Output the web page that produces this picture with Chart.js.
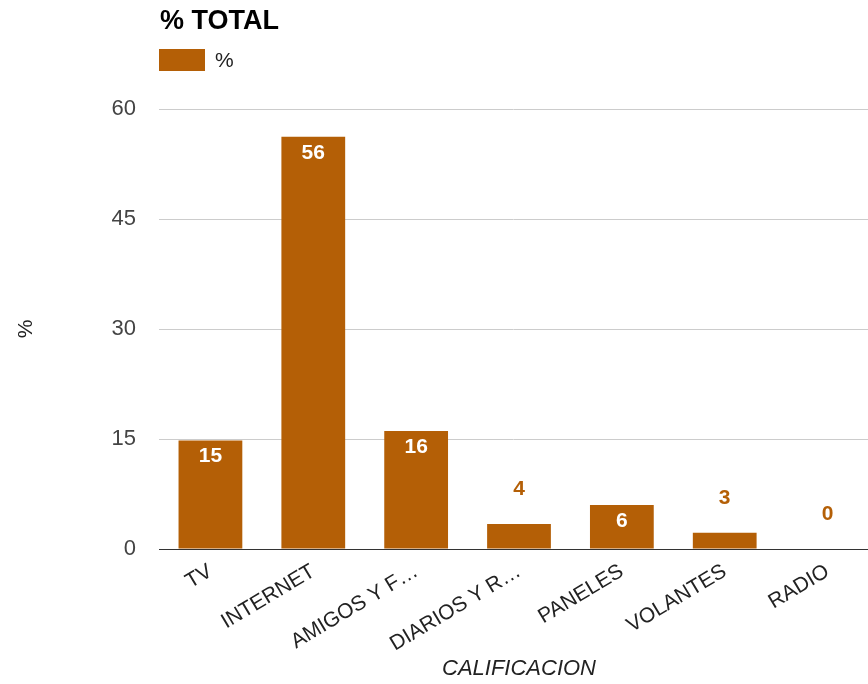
<!DOCTYPE html>
<html>
<head>
<meta charset="utf-8">
<script src="https://cdn.jsdelivr.net/npm/chart.js@4/dist/chart.umd.min.js"></script>
<style>
  body { margin: 0; background: #fff; }
</style>
</head>
<body>
<canvas id="chart" width="868" height="684"></canvas>
<script>
// datos del grafico
const categories = ["TV", "INTERNET", "AMIGOS Y F…", "DIARIOS Y R…", "PANELES", "VOLANTES", "RADIO"];
const values = [14.8, 56.2, 16.1, 3.4, 6.0, 2.2, 0];
const valueLabels = ["15", "56", "16", "4", "6", "3", "0"];
const yTicks = [0, 15, 30, 45, 60];
const chartTitle = "% TOTAL";
const seriesName = "%";
const xTitle = "CALIFICACION";
const yTitle = "%";

const barColor = "#b45f06";
const fontFamily = "Arial, 'Liberation Sans', sans-serif";

// titulo y leyenda alineados con el area del grafico
const headerPlugin = {
  id: "header",
  afterDraw(chart) {
    const ctx = chart.ctx;
    const left = chart.chartArea.left + 1;
    ctx.save();
    ctx.textBaseline = "middle";
    ctx.textAlign = "left";
    ctx.fillStyle = "#000";
    ctx.font = "bold 27px " + fontFamily;
    ctx.fillText(chartTitle, left, 22);
    ctx.fillStyle = barColor;
    ctx.fillRect(left - 1, 49, 46, 22);
    ctx.fillStyle = "#222";
    ctx.font = "21px " + fontFamily;
    ctx.fillText(seriesName, left + 55, 61);
    ctx.restore();
  },
};

// el eje x se extiende un poco mas alla del borde derecho
const stretchPlugin = {
  id: "stretch",
  afterLayout(chart) {
    const x = chart.scales.x;
    x.right = 879;
    x.width = x.right - x.left;
    x.configure();
  },
};

// etiquetas de valor sobre/dentro de las barras
const valueLabelPlugin = {
  id: "valueLabels",
  afterDatasetsDraw(chart) {
    const ctx = chart.ctx;
    const meta = chart.getDatasetMeta(0);
    ctx.save();
    ctx.font = "bold 21px " + fontFamily;
    ctx.textAlign = "center";
    ctx.textBaseline = "middle";
    meta.data.forEach((bar, i) => {
      const h = bar.base - bar.y;
      if (h >= 35) {
        ctx.fillStyle = "#fff";
        ctx.fillText(valueLabels[i], bar.x, bar.y + 16);
      } else {
        ctx.fillStyle = barColor;
        ctx.fillText(valueLabels[i], bar.x, bar.y - 35);
      }
    });
    ctx.restore();
  },
};

new Chart(document.getElementById("chart").getContext("2d"), {
  type: "bar",
  data: {
    labels: categories,
    datasets: [
      {
        label: seriesName,
        data: values,
        backgroundColor: barColor,
        borderWidth: 0,
        barPercentage: 0.62,
        categoryPercentage: 1,
      },
    ],
  },
  options: {
    responsive: false,
    animation: false,
    layout: { padding: { top: 109, right: 0, left: 0, bottom: 0 } },
    plugins: {
      legend: { display: false },
      title: { display: false },
      tooltip: { enabled: false },
    },
    scales: {
      x: {
        grid: { display: false },
        border: { color: "#333", width: 1 },
        ticks: {
          autoSkip: false,
          minRotation: 31,
          maxRotation: 31,
          color: "#222",
          font: { size: 21, family: fontFamily },
          padding: 2,
        },
        title: {
          display: true,
          text: xTitle,
          color: "#222",
          font: { size: 22, style: "italic", family: fontFamily },
          padding: { top: 0, bottom: 2 },
        },
        afterFit(scale) {
          scale.height = 135;
        },
      },
      y: {
        min: 0,
        max: 60,
        afterBuildTicks(scale) {
          scale.ticks = yTicks.map((v) => ({ value: v }));
        },
        grid: {
          color: (c) => (c.tick && c.tick.value === 0 ? "#333" : "#cccccc"),
          drawTicks: false,
        },
        border: { display: false },
        ticks: {
          color: "#444",
          font: { size: 22, family: fontFamily },
          padding: 23,
        },
        title: {
          display: true,
          text: yTitle,
          color: "#222",
          font: { size: 21, family: fontFamily },
          padding: { top: 14, bottom: 0 },
        },
        afterFit(scale) {
          scale.width = 159;
        },
      },
    },
  },
  plugins: [headerPlugin, stretchPlugin, valueLabelPlugin],
});
</script>
</body>
</html>
